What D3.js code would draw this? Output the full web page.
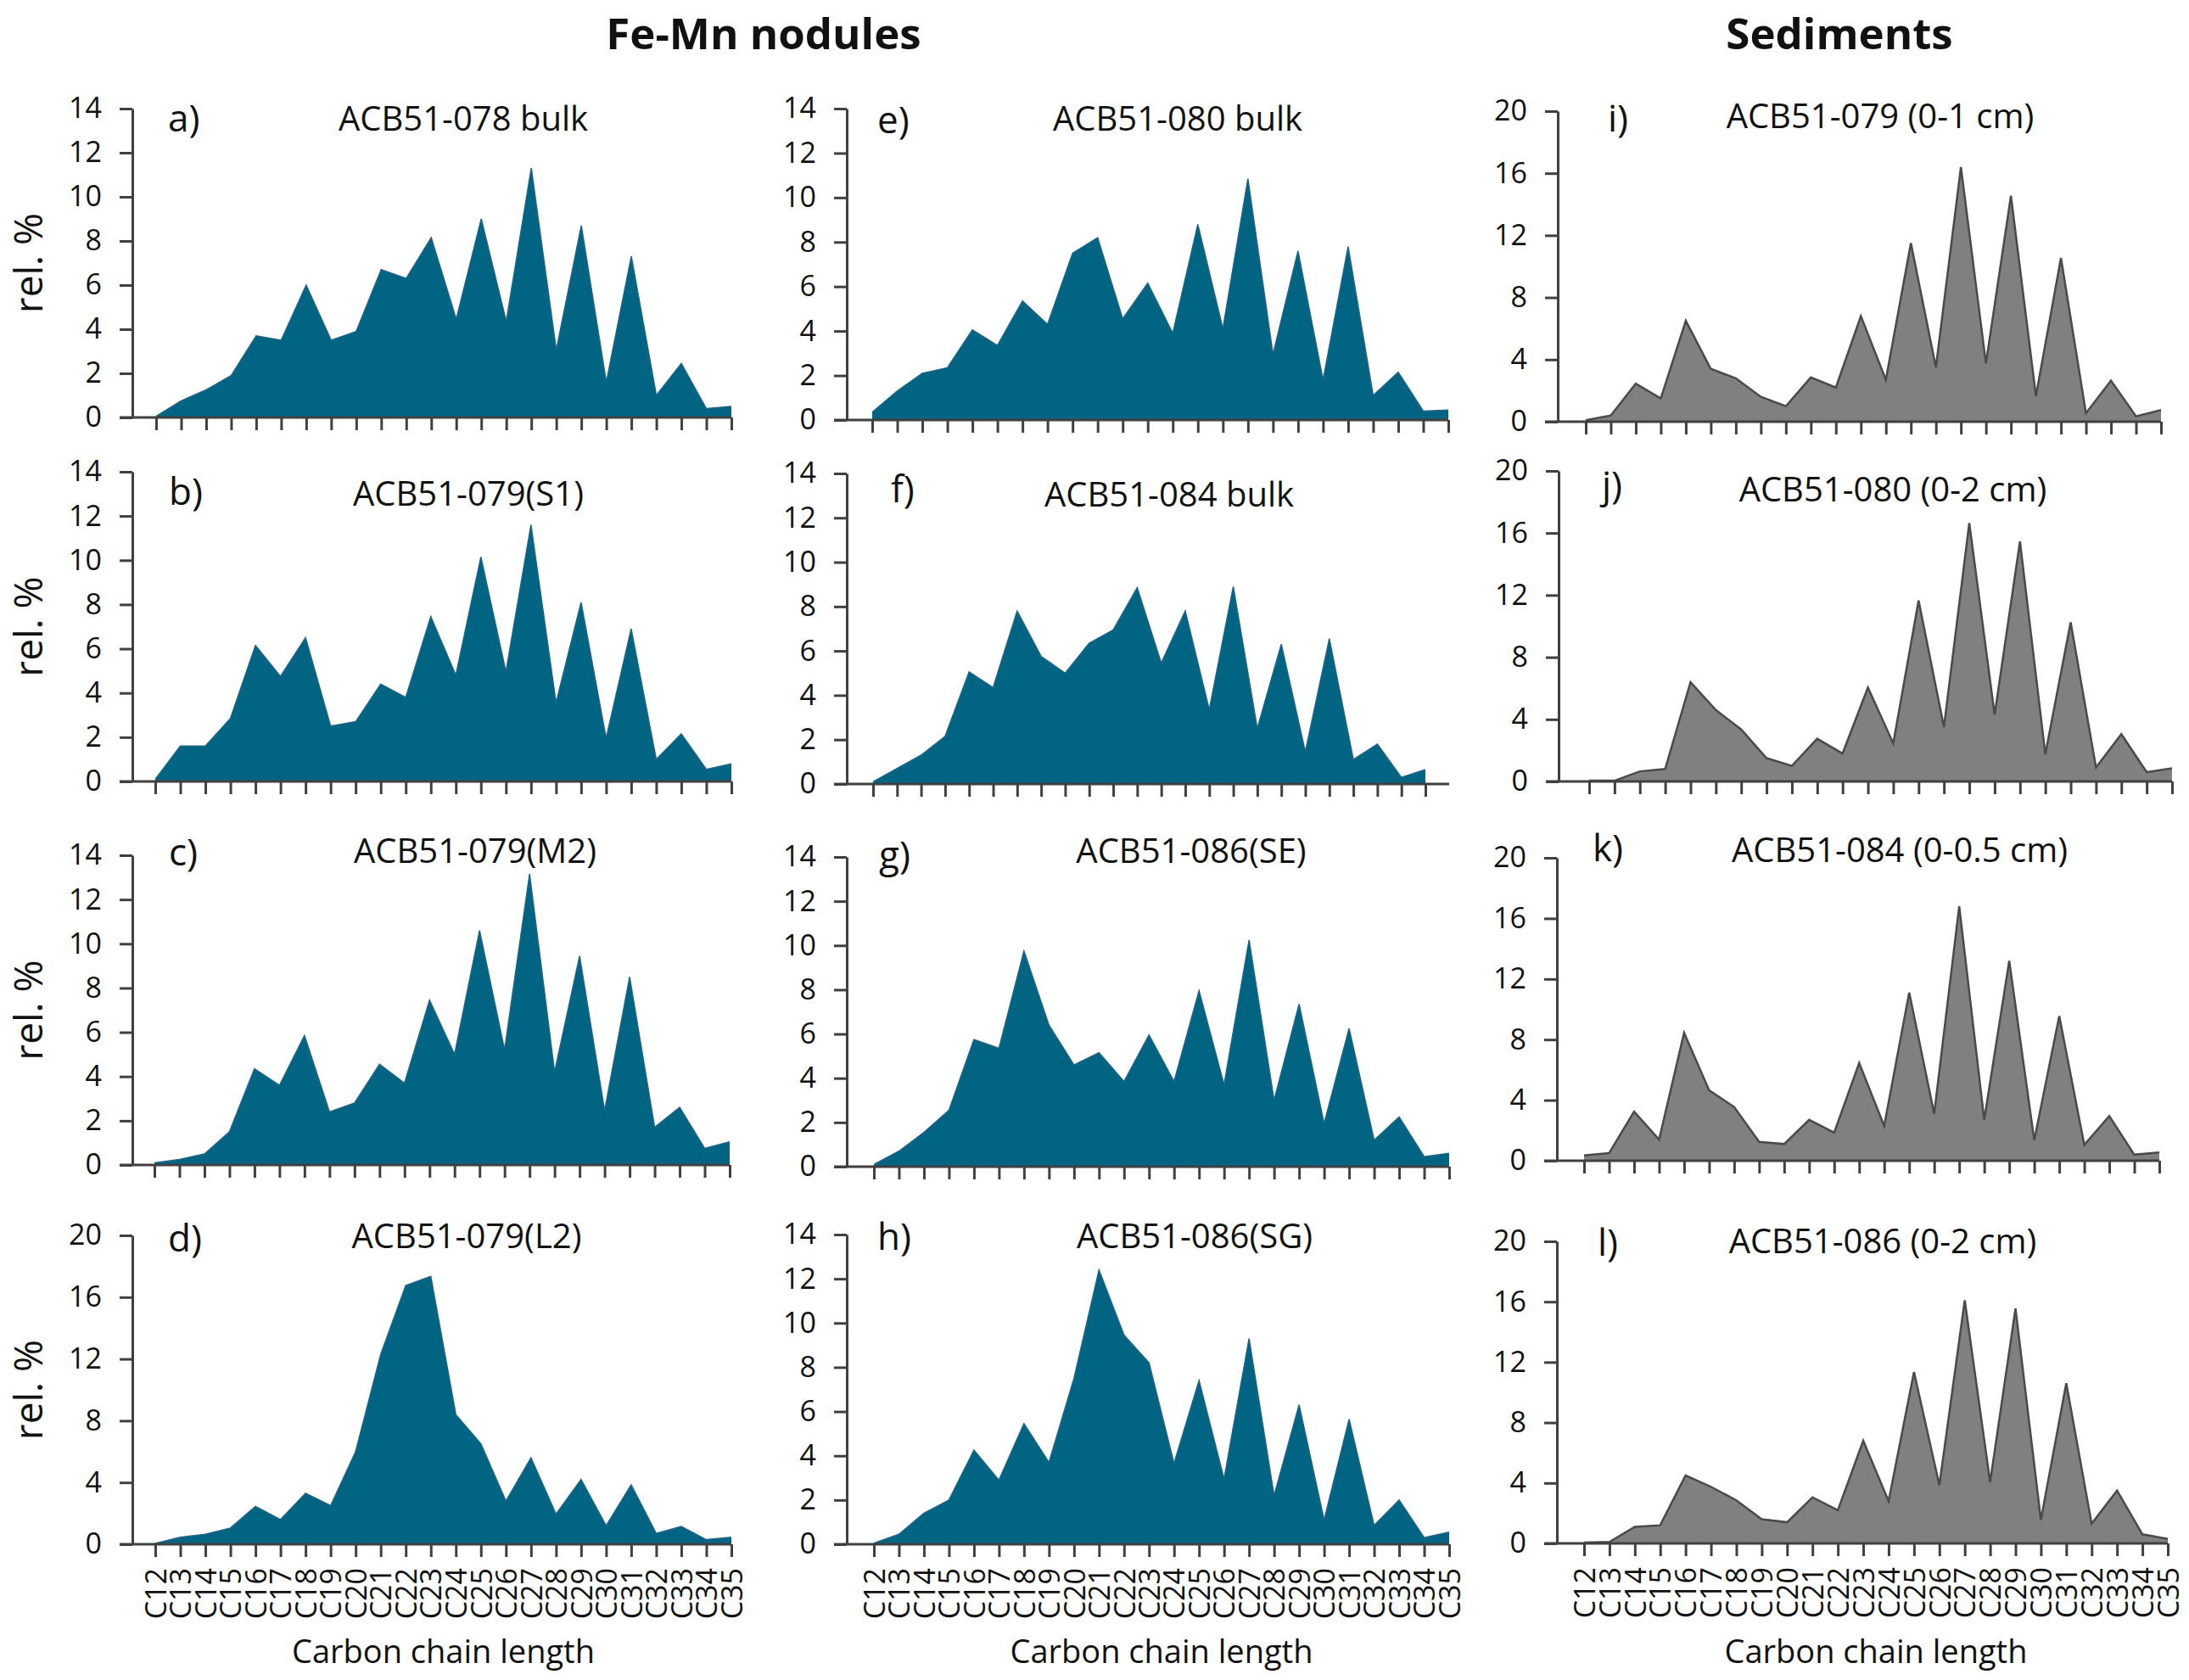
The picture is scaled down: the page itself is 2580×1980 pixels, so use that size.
<!DOCTYPE html>
<html>
<head>
<meta charset="utf-8">
<script src="https://cdn.jsdelivr.net/npm/d3@7"></script>
<style>
body { margin: 0; background: #fff; }
text { font-family: "Open Sans", "Noto Sans", sans-serif; fill: #111; }
</style>
</head>
<body>
<div id="chart"></div>
<script>
const ancho = 2580
const alto = 1980

// datos
const cadenas = ["C12", "C13", "C14", "C15", "C16", "C17", "C18", "C19", "C20", "C21", "C22", "C23",
    "C24", "C25", "C26", "C27", "C28", "C29", "C30", "C31", "C32", "C33", "C34", "C35"]
const encabezados = ["Fe-Mn nodules", "Sediments"]
const letras = ["a)", "b)", "c)", "d)", "e)", "f)", "g)", "h)", "i)", "j)", "k)", "l)"]
const muestras = ["ACB51-078 bulk", "ACB51-079(S1)", "ACB51-079(M2)", "ACB51-079(L2)",
    "ACB51-080 bulk", "ACB51-084 bulk", "ACB51-086(SE)", "ACB51-086(SG)",
    "ACB51-079 (0-1 cm)", "ACB51-080 (0-2 cm)", "ACB51-084 (0-0.5 cm)", "ACB51-086 (0-2 cm)"]
const tipos = ["nodulo", "nodulo", "nodulo", "nodulo", "nodulo", "nodulo", "nodulo", "nodulo",
    "sedimento", "sedimento", "sedimento", "sedimento"]
const maximos = [14, 14, 14, 20, 14, 14, 14, 14, 20, 20, 20, 20]
const ticks14 = [0, 2, 4, 6, 8, 10, 12, 14]
const ticks20 = [0, 4, 8, 12, 16, 20]
const etiquetaY = "rel. %"
const etiquetaX = "Carbon chain length"

const valoresA = [0.05, 0.75, 1.25, 1.9, 3.7, 3.5, 6.0, 3.5, 3.9, 6.7, 6.3, 8.15, 4.45, 9.0, 4.35, 11.3, 3.05, 8.7, 1.6, 7.3, 1.0, 2.45, 0.4, 0.5]
const valoresB = [0.1, 1.6, 1.6, 2.85, 6.15, 4.75, 6.5, 2.5, 2.7, 4.4, 3.8, 7.45, 4.8, 10.15, 4.95, 11.6, 3.55, 8.1, 1.95, 6.9, 1.0, 2.15, 0.55, 0.8]
const valoresC = [0.1, 0.25, 0.5, 1.5, 4.35, 3.6, 5.85, 2.4, 2.8, 4.55, 3.7, 7.45, 5.0, 10.6, 5.2, 13.15, 4.2, 9.45, 2.45, 8.5, 1.7, 2.6, 0.75, 1.05]
const valoresD = [0.05, 0.45, 0.65, 1.05, 2.45, 1.6, 3.3, 2.5, 6.0, 12.3, 16.75, 17.35, 8.4, 6.5, 2.8, 5.6, 1.95, 4.2, 1.2, 3.85, 0.7, 1.15, 0.3, 0.45]
const valoresE = [0.35, 1.3, 2.1, 2.35, 4.05, 3.35, 5.35, 4.3, 7.5, 8.2, 4.55, 6.15, 3.9, 8.8, 4.1, 10.85, 2.95, 7.6, 1.8, 7.8, 1.1, 2.15, 0.4, 0.45]
const valoresF = [0.1, 0.7, 1.3, 2.15, 5.05, 4.35, 7.8, 5.75, 5.0, 6.35, 6.95, 8.85, 5.45, 7.8, 3.35, 8.9, 2.5, 6.3, 1.45, 6.55, 1.1, 1.8, 0.3, 0.65]
const valoresG = [0.1, 0.7, 1.55, 2.55, 5.75, 5.35, 9.75, 6.4, 4.6, 5.15, 3.85, 5.95, 3.85, 7.95, 3.7, 10.25, 3.0, 7.35, 1.95, 6.25, 1.2, 2.25, 0.45, 0.6]
const valoresH = [0.05, 0.45, 1.4, 2.0, 4.25, 2.9, 5.45, 3.7, 7.5, 12.4, 9.45, 8.2, 3.65, 7.4, 2.95, 9.3, 2.2, 6.3, 1.1, 5.65, 0.85, 2.0, 0.3, 0.55]
const valoresI = [0.1, 0.4, 2.45, 1.5, 6.5, 3.4, 2.8, 1.6, 1.0, 2.85, 2.2, 6.8, 2.7, 11.5, 3.5, 16.4, 3.75, 14.55, 1.65, 10.55, 0.55, 2.65, 0.35, 0.75]
const valoresJ = [0.05, 0.05, 0.65, 0.8, 6.4, 4.6, 3.35, 1.5, 1.0, 2.75, 1.8, 6.05, 2.45, 11.65, 3.5, 16.65, 4.3, 15.45, 1.75, 10.25, 0.9, 3.05, 0.6, 0.85]
const valoresK = [0.35, 0.5, 3.25, 1.4, 8.45, 4.65, 3.55, 1.25, 1.1, 2.7, 1.85, 6.45, 2.3, 11.1, 3.1, 16.8, 2.7, 13.2, 1.35, 9.55, 1.05, 2.95, 0.4, 0.55]
const valoresL = [0.05, 0.1, 1.1, 1.2, 4.5, 3.75, 2.85, 1.6, 1.4, 3.05, 2.2, 6.8, 2.8, 11.35, 3.85, 16.1, 4.05, 15.55, 1.55, 10.6, 1.3, 3.5, 0.6, 0.3]
const series = [valoresA, valoresB, valoresC, valoresD, valoresE, valoresF, valoresG, valoresH,
    valoresI, valoresJ, valoresK, valoresL]

// posiciones de cada panel (en pixeles)
const marcos = [
    { ejeX: 156, x0: 184, x1: 862, fin: 862, arriba: 128, abajo: 492, tx: 546, ty: 140, lx: 198, ly: 140 },
    { ejeX: 156, x0: 183, x1: 862, fin: 862, arriba: 556, abajo: 921, tx: 552, ty: 582, lx: 199, ly: 580 },
    { ejeX: 156, x0: 182, x1: 860, fin: 860, arriba: 1008, abajo: 1373, tx: 560, ty: 1003, lx: 199, ly: 1005 },
    { ejeX: 156, x0: 183, x1: 862, fin: 862, arriba: 1456, abajo: 1820, tx: 550, ty: 1457, lx: 198, ly: 1460 },
    { ejeX: 998, x0: 1028, x1: 1707, fin: 1707, arriba: 128, abajo: 495, tx: 1388, ty: 140, lx: 1034, ly: 142 },
    { ejeX: 998, x0: 1029, x1: 1680, fin: 1708, arriba: 558, abajo: 924, tx: 1378, ty: 583, lx: 1050, ly: 577 },
    { ejeX: 998, x0: 1030, x1: 1708, fin: 1708, arriba: 1010, abajo: 1375, tx: 1404, ty: 1003, lx: 1036, ly: 1008 },
    { ejeX: 998, x0: 1030, x1: 1708, fin: 1708, arriba: 1455, abajo: 1820, tx: 1408, ty: 1457, lx: 1034, ly: 1458 },
    { ejeX: 1836, x0: 1869, x1: 2547, fin: 2547, arriba: 131, abajo: 497, tx: 2216, ty: 137, lx: 1895, ly: 140 },
    { ejeX: 1837, x0: 1873, x1: 2560, fin: 2560, arriba: 555, abajo: 921, tx: 2231, ty: 577, lx: 1888, ly: 572 },
    { ejeX: 1835, x0: 1867, x1: 2545, fin: 2545, arriba: 1011, abajo: 1368, tx: 2239, ty: 1002, lx: 1877, ly: 1000 },
    { ejeX: 1835, x0: 1867, x1: 2555, fin: 2555, arriba: 1463, abajo: 1819, tx: 2219, ty: 1463, lx: 1883, ly: 1465 }
]
const colores = {
    nodulo: { relleno: "#006482", borde: "#1f6488", grosor: 1.5 },
    sedimento: { relleno: "#808080", borde: "#4a4a4a", grosor: 2.5 }
}

const svg = d3.select("#chart").append("svg").attr("width", ancho).attr("height", alto)

svg.append("text").attr("x", 900).attr("y", 58).attr("text-anchor", "middle")
    .style("font-size", "51px").style("font-weight", "bold").text(encabezados[0])
svg.append("text").attr("x", 2168).attr("y", 58).attr("text-anchor", "middle")
    .style("font-size", "51px").style("font-weight", "bold").text(encabezados[1])

series.forEach((valores, i) => {
    const m = marcos[i]
    const estilo = colores[tipos[i]]
    const g = svg.append("g")

    const x = d3.scalePoint().domain(cadenas).range([m.x0, m.x1])
    const y = d3.scaleLinear().domain([0, maximos[i]]).range([m.abajo, m.arriba])

    const datos = cadenas.map((c, j) => ({ cadena: c, valor: valores[j] }))

    const area = d3.area().x(d => x(d.cadena)).y0(y(0)).y1(d => y(d.valor))
    const linea = d3.line().x(d => x(d.cadena)).y(d => y(d.valor))

    g.append("path").datum(datos).attr("d", area).attr("fill", estilo.relleno)
    g.append("path").datum(datos).attr("d", linea).attr("fill", "none")
        .attr("stroke", estilo.borde).attr("stroke-width", estilo.grosor).attr("stroke-linejoin", "miter")

    // eje y
    const ejeY = d3.axisLeft(y).tickValues(maximos[i] === 14 ? ticks14 : ticks20)
        .tickSize(15).tickSizeOuter(0).tickPadding(21)
    const grupoY = g.append("g").attr("transform", `translate(${m.ejeX},0)`).call(ejeY)
    grupoY.select(".domain").attr("stroke", "#404040").attr("stroke-width", 3)
    grupoY.selectAll(".tick line").attr("stroke", "#404040").attr("stroke-width", 3)
    grupoY.selectAll(".tick text").style("font-size", "34px").style("font-family", "'Open Sans'").attr("fill", "#111")

    // eje x
    const ultimaFila = i % 4 === 3
    const ejeX = d3.axisBottom(x).tickSize(15).tickSizeOuter(0)
        .tickFormat(ultimaFila ? (d => d) : () => "")
    const grupoX = g.append("g").attr("transform", `translate(0,${y(0)})`).call(ejeX)
    grupoX.select(".domain").remove()
    grupoX.selectAll(".tick line").attr("stroke", "#404040").attr("stroke-width", 3)
    g.append("line").attr("x1", m.ejeX - 15).attr("x2", m.fin).attr("y1", y(0)).attr("y2", y(0))
        .attr("stroke", "#404040").attr("stroke-width", 3)
    if (ultimaFila) {
        grupoX.selectAll(".tick text")
            .attr("transform", "rotate(-90)")
            .attr("x", -28).attr("y", 0).attr("dy", "0.36em")
            .style("text-anchor", "end").style("font-size", "34px")
            .style("font-family", "'Open Sans'").attr("fill", "#111")
        g.append("text").attr("x", (m.x0 + m.x1) / 2).attr("y", 1960).attr("text-anchor", "middle")
            .style("font-size", "38px").text(etiquetaX)
    }

    // titulos
    g.append("text").attr("x", m.lx).attr("y", m.ly).attr("dy", "0.35em")
        .style("font-size", "44px").text(letras[i])
    g.append("text").attr("x", m.tx).attr("y", m.ty).attr("dy", "0.35em").attr("text-anchor", "middle")
        .style("font-size", "40px").text(muestras[i])

    if (i < 4) {
        g.append("text").attr("transform", `translate(50,${(m.arriba + m.abajo) / 2}) rotate(-90)`)
            .attr("text-anchor", "middle").style("font-size", "46px").text(etiquetaY)
    }
})
</script>
</body>
</html>
